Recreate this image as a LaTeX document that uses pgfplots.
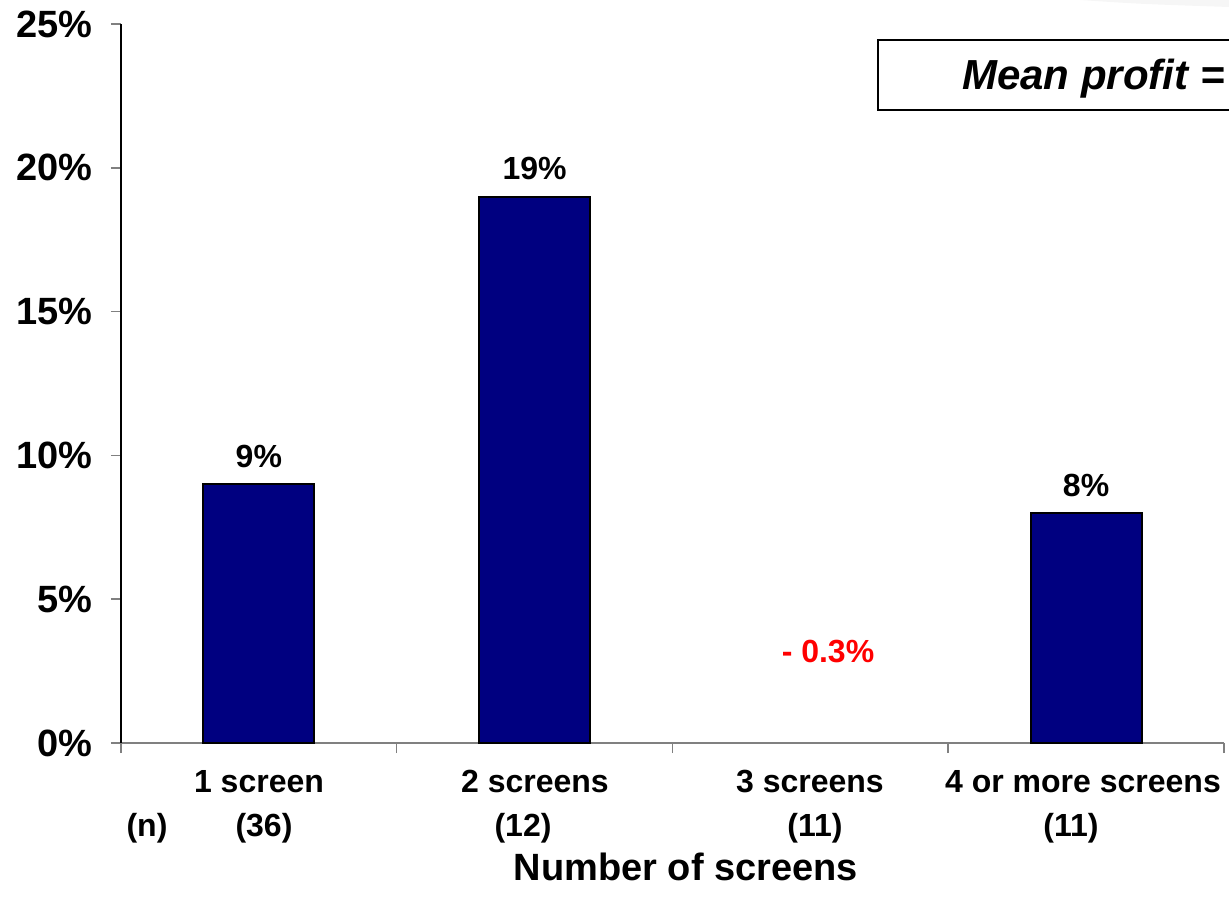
\documentclass[border=0pt]{standalone}
\usepackage{pgfplots}
\pgfplotsset{compat=1.18}
\usepackage{fontspec}
\setmainfont{Liberation Sans}
\definecolor{navyb}{RGB}{0,0,128}
\definecolor{redl}{RGB}{255,0,0}
\definecolor{axgray}{RGB}{128,128,128}
\begin{document}
\begin{tikzpicture}
\useasboundingbox (0pt,0pt) rectangle (1229pt,-909pt);
\fill[gray!7] (1080pt,0pt) .. controls (1140pt,-4pt) .. (1229pt,-7pt) -- (1229pt,0pt) -- cycle;
\begin{axis}[
  at={(121pt,-743pt)}, anchor=south west,
  width=1103pt, height=719pt, scale only axis,
  xmin=0, xmax=4, ymin=0, ymax=25,
  axis x line=bottom, axis y line=left,
  x axis line style={-, draw=axgray, line width=1.5pt},
  y axis line style={-, draw=black, line width=1.5pt},
  xtick={0,1,2,3,4}, xticklabels={},
  ytick={0,5,10,15,20,25},
  yticklabel={\pgfmathprintnumber{\tick}\%},
  /pgf/number format/assume math mode=true,
  yticklabel style={font=\fontsize{38}{40}\selectfont\bfseries, anchor=east, xshift=-15pt},
  tick align=outside, major tick length=10pt,
  xtick style={draw=axgray, line width=1.5pt},
  ytick style={draw=axgray, line width=1.5pt},
  ybar, bar width=111pt,
  clip mode=individual,
]
\addplot[fill=navyb, draw=black, line width=2pt, bar shift=0pt,
  nodes near coords={\pgfmathprintnumber{\pgfplotspointmeta}\%},
  nodes near coords style={font=\fontsize{32}{34}\selectfont\bfseries, text=black, anchor=south, yshift=12pt}]
  coordinates {(0.5,9) (1.5,19) (3.5,8)};
\addplot[fill=none, draw=none, bar shift=0pt]
  coordinates {(2.5,-0.3)};
\end{axis}
\begin{scope}[every node/.style={font=\fontsize{32}{34}\selectfont\bfseries, inner sep=0pt, anchor=base}]
\node at (259pt,-792pt) {1 screen};
\node at (535pt,-792pt) {2 screens};
\node at (810pt,-792pt) {3 screens};
\node at (1083pt,-792pt) {4 or more screens};
\node at (147pt,-836pt) {(n)};
\node at (264pt,-836pt) {(36)};
\node at (523pt,-836pt) {(12)};
\node at (815pt,-836pt) {(11)};
\node at (1071pt,-836pt) {(11)};
\node[text=redl] at (828pt,-662pt) {- 0.3\%};
\node[font=\fontsize{38}{40}\selectfont\bfseries] at (686pt,-880pt) {Number of screens};
\end{scope}
\draw[line width=2pt, fill=white] (878pt,-40pt) rectangle (1300pt,-110pt);
\node[anchor=base west, inner sep=0pt, font=\fontsize{42}{44}\selectfont\bfseries\itshape] at (962pt,-90pt) {Mean profit = };
\end{tikzpicture}
\end{document}
